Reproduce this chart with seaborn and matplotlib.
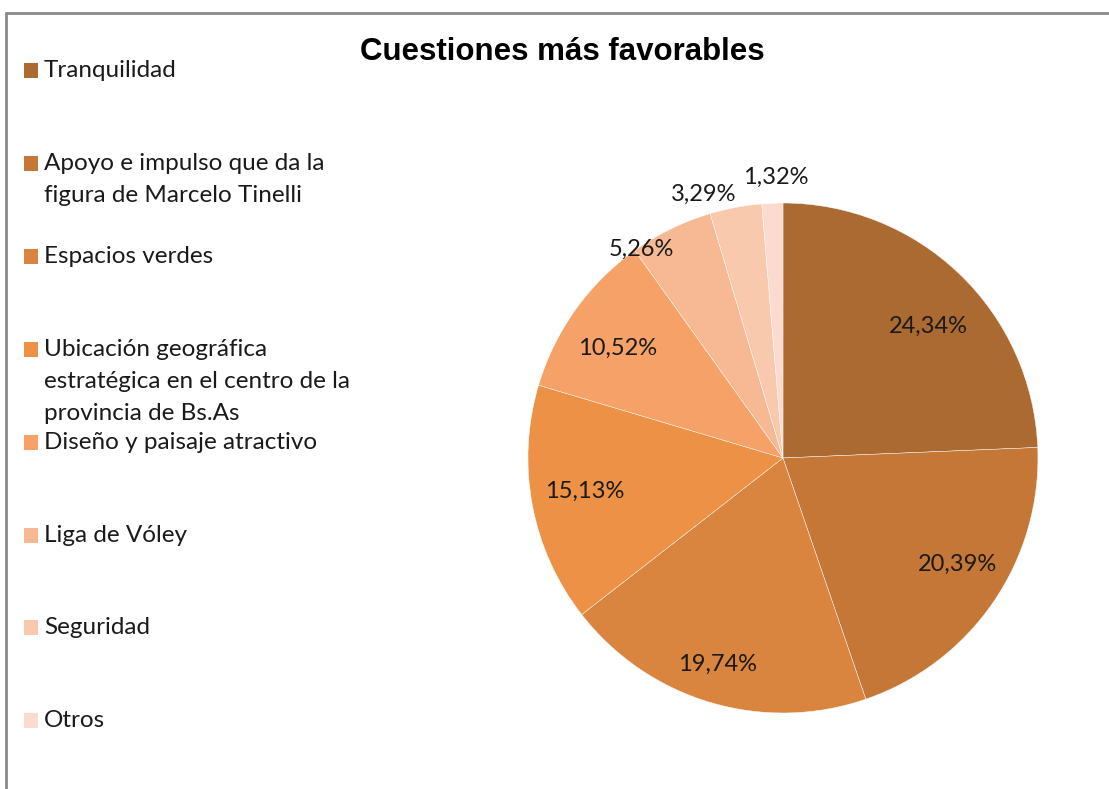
import numpy as np
import matplotlib
matplotlib.use('Agg')
import matplotlib.pyplot as plt
from matplotlib.patches import Rectangle
from matplotlib.lines import Line2D
import seaborn as sns

# Chart data
categories = ['Tranquilidad',
              'Apoyo e impulso que da la\nfigura de Marcelo Tinelli',
              'Espacios verdes',
              'Ubicación geográfica\nestratégica en el centro de la\nprovincia de Bs.As',
              'Diseño y paisaje atractivo',
              'Liga de Vóley',
              'Seguridad',
              'Otros']
values = [24.34, 20.39, 19.74, 15.13, 10.52, 5.26, 3.29, 1.32]
colors = ['#AB6A32', '#C57737', '#D9843F', '#EC9146',
          '#F5A168', '#F7B894', '#F9C9AE', '#FBDBCF']

# label placement (radius as fraction of pie radius, angle nudge in degrees)
label_r = [0.77, 0.80, 0.85, 0.79, 0.78, 0.99, 1.08, 1.10]
label_nudge = [-4, 3, -1, -1, 2, 8, 6, -1]

sns.set_theme(style='white')
plt.rcParams['font.family'] = ['Lato', 'DejaVu Sans']

fig = plt.figure(figsize=(11.09, 7.89), dpi=100)
fig.patch.set_facecolor('white')

# outer chart frame: only top and left edges are visible in the screenshot
fx, fy = 6 / 1109, 1 - 13 / 789
fig.lines.append(Line2D([fx, 1.05], [fy, fy], transform=fig.transFigure,
                        color='#8A8A8A', linewidth=2))
fig.lines.append(Line2D([fx, fx], [-0.05, fy], transform=fig.transFigure,
                        color='#8A8A8A', linewidth=2))

ax = fig.add_axes([0.4186, 0.01553, 0.5748, 0.808])
wedges, _ = ax.pie(values, colors=colors, startangle=90, counterclock=False,
                   wedgeprops=dict(edgecolor='white', linewidth=0.3))
ax.set_xlim(-1.25, 1.25)
ax.set_ylim(-1.25, 1.25)
ax.set_aspect('equal')

for w, v, r, nd in zip(wedges, values, label_r, label_nudge):
    ang = np.deg2rad((w.theta1 + w.theta2) / 2 + nd)
    txt = f'{v:.2f}'.replace('.', ',') + '%'
    ax.text(r * np.cos(ang), r * np.sin(ang), txt, ha='center', va='center',
            fontsize=17, color='#1a1a1a')

fig.text(562 / 1109, 1 - 52 / 789, 'Cuestiones más favorables',
         ha='center', va='center', fontsize=22.5, fontweight='bold',
         family='Liberation Sans', color='black')

# legend, evenly spaced entries like the Excel legend
step = 92.9
for i, (lab, col) in enumerate(zip(categories, colors)):
    yc = 70 + i * step
    fig.patches.append(Rectangle((24 / 1109, 1 - (yc + 8) / 789), 14 / 1109, 15 / 789,
                                 transform=fig.transFigure, facecolor=col,
                                 edgecolor='none'))
    fig.text(44 / 1109, 1 - (yc - 10) / 789, lab, ha='left', va='top',
             fontsize=17.5, color='#1a1a1a', linespacing=1.66)

plt.savefig('out.png', dpi=100)
plt.close()
